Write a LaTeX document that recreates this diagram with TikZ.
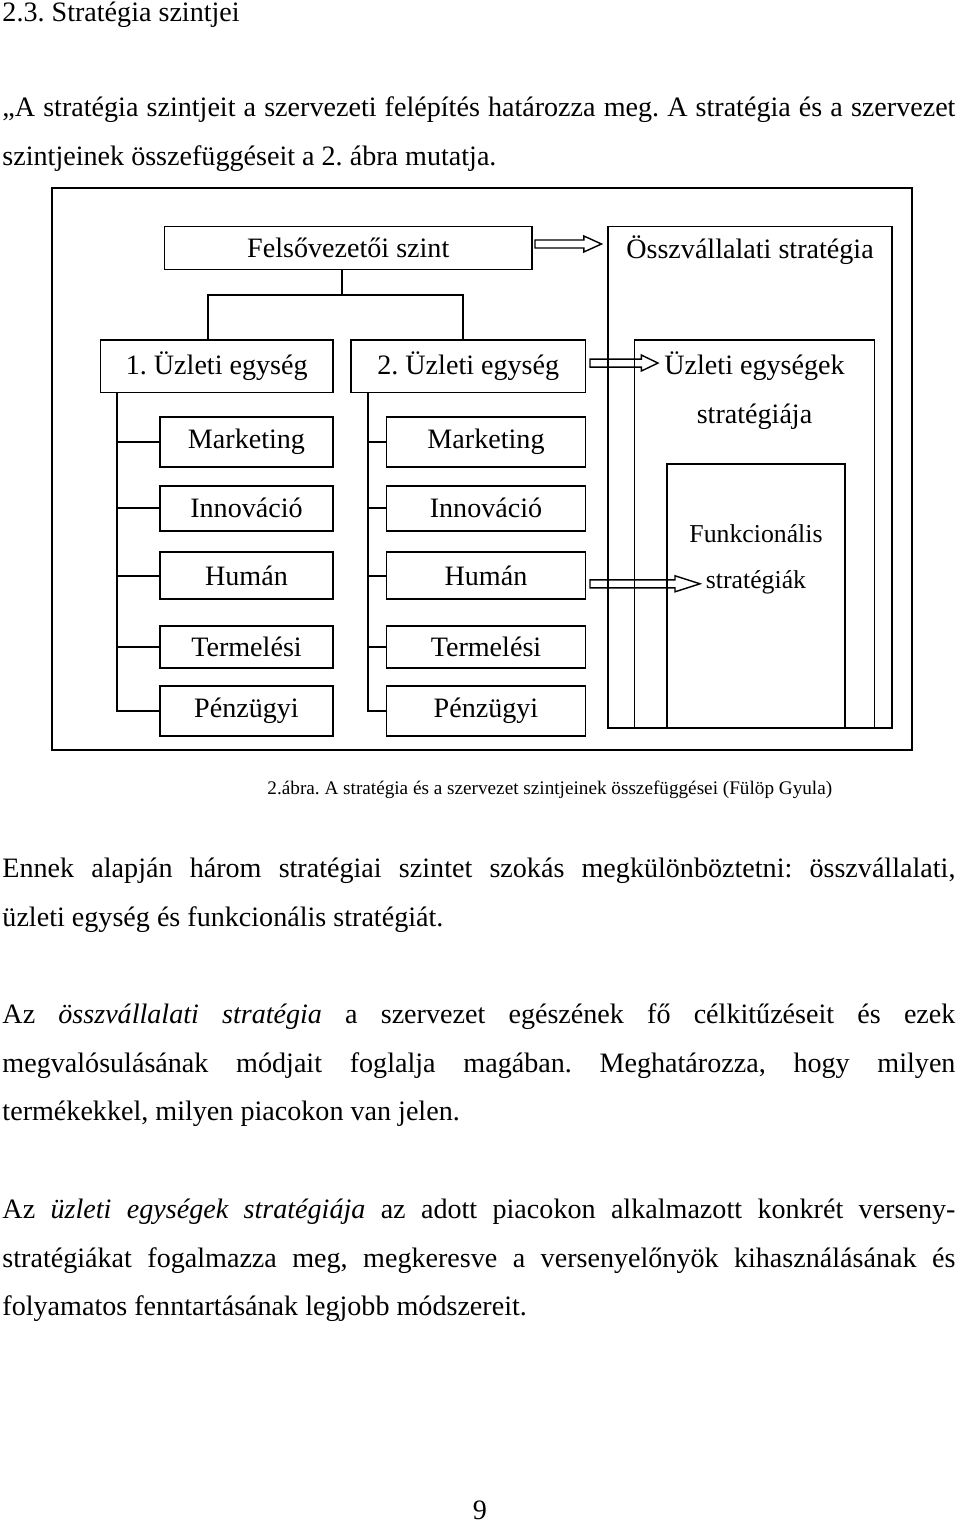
\documentclass[tikz,border=0pt]{standalone}
\usepackage{fontspec}
\setmainfont{Liberation Serif}
\usetikzlibrary{calc}
\frenchspacing

% outlined block arrow from #2 to the tip #3, head length #1 (pixels)
\newcommand{\openarrow}[3][17.5]{%
  \draw[line width=0.6pt] let \p1=(#2), \p2=(#3) in
    (\x1,\y1+4*\u) -- (\x2-#1*\u,\y1+4*\u) -- (\x2-#1*\u,\y1+8*\u) -- (\x2,\y1)
    -- (\x2-#1*\u,\y1-8*\u) -- (\x2-#1*\u,\y1-4*\u) -- (\x1,\y1-4*\u) -- cycle;}

\begin{document}
\begin{tikzpicture}[x=0.427pt, y=-0.427pt,
    every node/.style={font=\fontsize{12}{14.4}\selectfont},
    box/.style={draw, line width=0.8pt, inner sep=0pt, outer sep=0pt, anchor=north west},
    lbl/.style={anchor=base, inner sep=0pt},
    txt/.style={anchor=base west, inner sep=0pt},
    tree/.style={line width=0.8pt}]
    % Page measured in pixels of the scan
    \def\u{0.427pt}
    \def\linew{406.9pt}
    \useasboundingbox (0,0) rectangle (960,1523);

    % Heading and first paragraph
    \node[txt] (head) at (2,22) {2.3. Stratégia szintjei};
    \node[txt] (pa1) at (2,117) {\makebox[\linew][s]{„A stratégia szintjeit a szervezeti felépítés határozza meg. A stratégia és a szervezet}};
    \node[txt] (pa2) at (2,166) {szintjeinek összefüggéseit a 2. ábra mutatja.};

    % Figure frame
    \draw[line width=1pt] (52,188) rectangle (912,750);

    % Top level and corporate strategy
    \node[box, minimum width=367.5*\u, minimum height=43*\u] (felso) at (164.5,226.5) {Felsővezetői szint};
    \node[box, minimum width=284*\u, minimum height=501.5*\u] (ossz) at (608,226.5) {};
    \node[lbl] (osszlbl) at (750,259) {Összvállalati stratégia};

    % Business units and their strategy
    \node[box, minimum width=232.5*\u, minimum height=52.5*\u] (u1) at (100.5,340) {1. Üzleti egység};
    \node[box, minimum width=234.5*\u, minimum height=52.5*\u] (u2) at (351,340) {2. Üzleti egység};
    \node[box, minimum width=240*\u, minimum height=388*\u] (uzs) at (634.5,340) {};
    \node[lbl] (uzslbl) at (754.5,375) {Üzleti egységek};
    \node[lbl] (uzslbl2) at (754.5,424) {stratégiája};
    \node[box, minimum width=178*\u, minimum height=264*\u] (funk) at (667,464) {};
    \node[lbl, font=\fontsize{11}{13}\selectfont] (funklbl) at (756,542) {Funkcionális};
    \node[lbl, font=\fontsize{11}{13}\selectfont] (funklbl2) at (756,588) {stratégiák};

    % Functions of unit 1
    \node[box, minimum width=173*\u, minimum height=50.6*\u] (m1) at (160,416.7) {Marketing};
    \node[box, minimum width=173*\u, minimum height=45.3*\u] (i1) at (160,485.7) {Innováció};
    \node[box, minimum width=173*\u, minimum height=47*\u] (h1) at (160,552.3) {Humán};
    \node[box, minimum width=173*\u, minimum height=42*\u] (t1) at (160,625.7) {Termelési};
    \node[box, minimum width=173*\u, minimum height=50*\u] (p1) at (160,686) {Pénzügyi};

    % Functions of unit 2
    \node[box, minimum width=199*\u, minimum height=50.6*\u] (m2) at (386.5,416.7) {Marketing};
    \node[box, minimum width=199*\u, minimum height=45.3*\u] (i2) at (386.5,485.7) {Innováció};
    \node[box, minimum width=199*\u, minimum height=47*\u] (h2) at (386.5,552.3) {Humán};
    \node[box, minimum width=199*\u, minimum height=42*\u] (t2) at (386.5,625.7) {Termelési};
    \node[box, minimum width=199*\u, minimum height=50*\u] (p2) at (386.5,686) {Pénzügyi};

    % Tree lines
    \coordinate (fk) at ($(felso.south)+(-6,25.5)$);
    \draw[tree] ($(felso.south)+(-6,0)$) -- (fk);
    \draw[tree] ($(u1.north)+(-8.7,0)$) |- (fk) -| ($(u2.north)+(-5,0)$);
    \coordinate (c1) at ($(u1.south west)+(16.3,0)$);
    \coordinate (c2) at ($(u2.south west)+(17,0)$);
    \draw[tree] (c1) |- (m1.west) (c1) |- (i1.west) (c1) |- (h1.west) (c1) |- (t1.west) (c1) |- (p1.west);
    \draw[tree] (c2) |- (m2.west) (c2) |- (i2.west) (c2) |- (h2.west) (c2) |- (t2.west) (c2) |- (p2.west);

    % Arrows to the strategy levels
    \coordinate (a1s) at ($(felso.east)+(3,-4)$);
    \coordinate (a1e) at ($(ossz.west |- a1s)+(-6.5,0)$);
    \coordinate (a2s) at ($(u2.east)+(4.5,-3.2)$);
    \coordinate (a2e) at ($(uzs.west |- a2s)+(23.5,0)$);
    \coordinate (a3s) at ($(h2.east)+(4.5,8)$);
    \coordinate (a3e) at ($(funk.west |- a3s)+(33,0)$);
    \openarrow[17.7]{a1s}{a1e}
    \openarrow[16.7]{a2s}{a2e}
    \openarrow[25]{a3s}{a3e}

    % Caption
    \node[txt, font=\fontsize{8.2}{10}\selectfont] (cap) at (267,794) {2.ábra. A stratégia és a szervezet szintjeinek összefüggései (Fülöp Gyula)};

    % Following paragraphs
    \node[txt] (pb1) at (2,877) {\makebox[\linew][s]{Ennek alapján három stratégiai szintet szokás megkülönböztetni: összvállalati,}};
    \node[txt] (pb2) at (2,926) {üzleti egység és funkcionális stratégiát.};
    \node[txt] (pc1) at (2,1023) {\makebox[\linew][s]{Az \textit{összvállalati stratégia} a szervezet egészének fő célkitűzéseit és ezek}};
    \node[txt] (pc2) at (2,1072) {\makebox[\linew][s]{megvalósulásának módjait foglalja magában. Meghatározza, hogy milyen}};
    \node[txt] (pc3) at (2,1120) {termékekkel, milyen piacokon van jelen.};
    \node[txt] (pd1) at (2,1218) {\makebox[\linew][s]{Az \textit{üzleti egységek stratégiája} az adott piacokon alkalmazott konkrét verseny-}};
    \node[txt] (pd2) at (2,1267) {\makebox[\linew][s]{stratégiákat fogalmazza meg, megkeresve a versenyelőnyök kihasználásának és}};
    \node[txt] (pd3) at (2,1315) {folyamatos fenntartásának legjobb módszereit.};

    % Page number
    \node[lbl] (pnum) at (480,1519) {9};
\end{tikzpicture}
\end{document}
